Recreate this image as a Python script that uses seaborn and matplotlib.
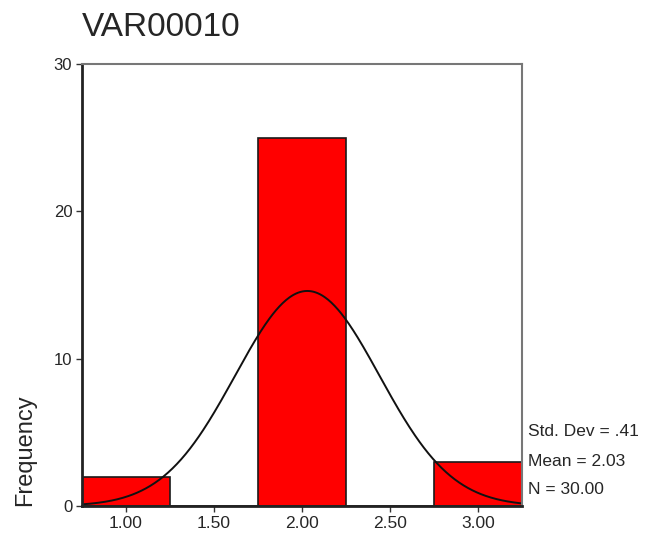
import numpy as np
import pandas as pd
import matplotlib
matplotlib.use("Agg")
import matplotlib.pyplot as plt
import seaborn as sns

# Data
bin_centers = [1.00, 2.00, 3.00]
frequencies = [2, 25, 3]
x_ticks = [1.00, 1.50, 2.00, 2.50, 3.00]
x_tick_labels = ["1.00", "1.50", "2.00", "2.50", "3.00"]
y_ticks = [0, 10, 20, 30]
std_dev = 0.41
mean = 2.03
n_total = 30
bin_width = 0.5

sns.set_theme(style="white")
plt.rcParams['font.family'] = ['Liberation Sans', 'DejaVu Sans']

fig = plt.figure(figsize=(6.45, 5.36), dpi=100)
ax = fig.add_axes([82/645, 1 - 506/536, (522-82)/645, (506-64)/536])

df = pd.DataFrame({"value": bin_centers, "freq": frequencies})
sns.histplot(data=df, x="value", weights="freq", binwidth=bin_width,
             binrange=(0.75, 3.25), color="#ff0000", alpha=1,
             edgecolor="#1a1a1a", linewidth=1.2, ax=ax)

xs = np.linspace(0.75, 3.25, 400)
ys = n_total * bin_width / (std_dev * np.sqrt(2 * np.pi)) * np.exp(-0.5 * ((xs - mean) / std_dev) ** 2)
sns.lineplot(x=xs, y=ys, color="#111111", linewidth=1.4, ax=ax)

ax.set_xlim(0.75, 3.25)
ax.set_ylim(0, 30)
ax.set_xticks(x_ticks)
ax.set_xticklabels(x_tick_labels, fontsize=12.5)
ax.set_yticks(y_ticks)
ax.set_yticklabels([str(v) for v in y_ticks], fontsize=12)
ax.tick_params(axis="both", direction="out", length=4, width=1, color="#333333",
               bottom=True, left=True, pad=3)
ax.set_xlabel("")
ax.set_ylabel("")

for side in ["left", "bottom"]:
    ax.spines[side].set_color("#222222")
    ax.spines[side].set_linewidth(2)
for side in ["top", "right"]:
    ax.spines[side].set_color("#777777")
    ax.spines[side].set_linewidth(1.5)
    ax.spines[side].set_visible(True)

fig.text(82/645, 1 - 27/536, "VAR00010", fontsize=24, ha="left", va="center")
fig.text(25/645, 1 - 450/536, "Frequency", fontsize=17, rotation=90, ha="center", va="center")

fig.text(528/645, 1 - 432/536, "Std. Dev = .41", fontsize=12.5, ha="left", va="center")
fig.text(528/645, 1 - 461/536, "Mean = 2.03", fontsize=12.5, ha="left", va="center")
fig.text(528/645, 1 - 490/536, "N = 30.00", fontsize=12.5, ha="left", va="center")

fig.savefig("out.png", dpi=100, facecolor="white")
